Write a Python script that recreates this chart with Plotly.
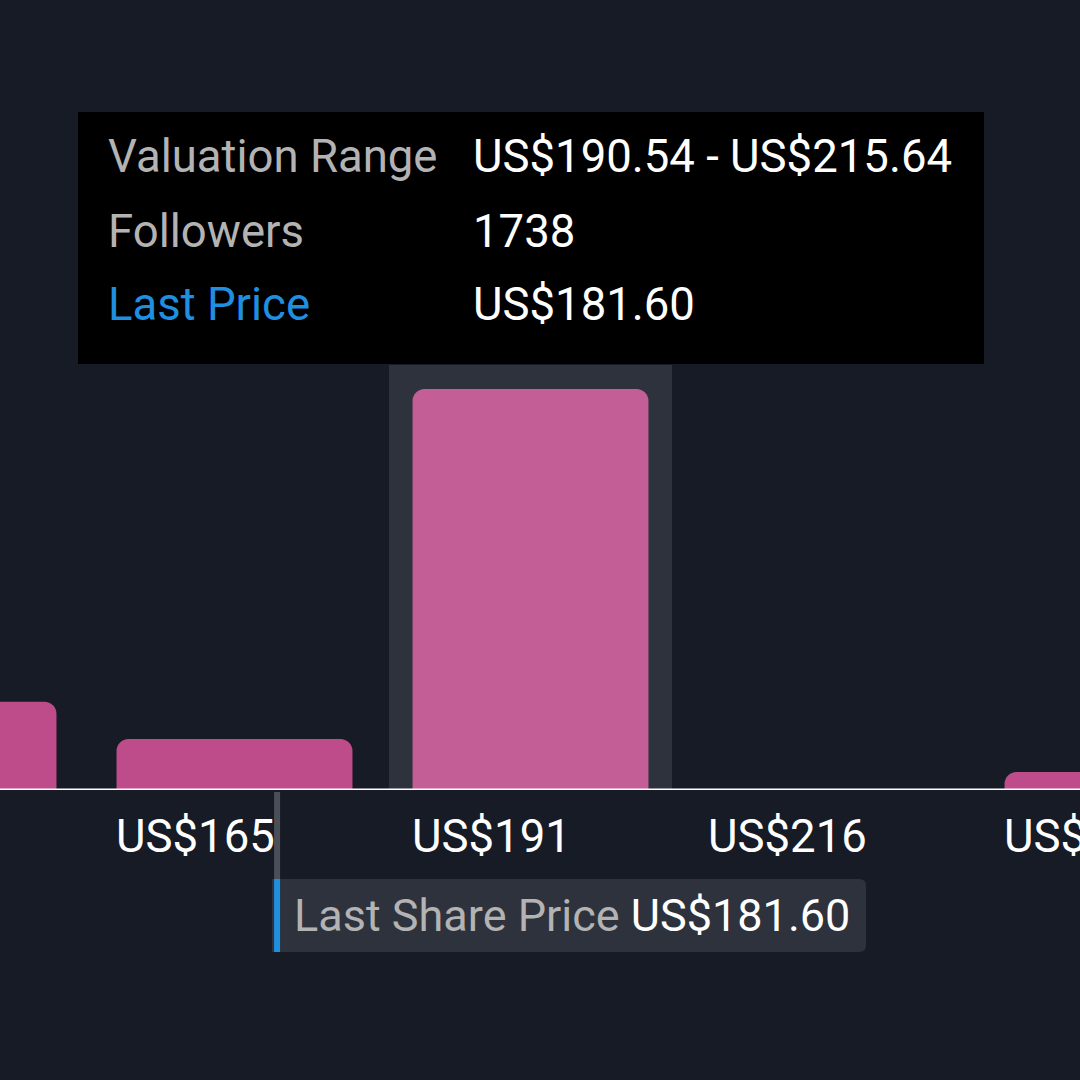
import plotly.graph_objects as go

# fair value bins (lower edges, US$) and how many narratives fall in each
bin_lower = [140.34, 165.44, 190.54, 215.64, 240.74]
bin_counts = [22.0, 12.7, 100.0, 0.0, 4.5]
tick_labels = ["US$140", "US$165", "US$191", "US$216", "US$241"]
selected_bin = 2

last_price = 181.60
tooltip_rows = [
    ("Valuation Range", "US$190.54 - US$215.64"),
    ("Followers", "1738"),
    ("Last Price", "US$181.60"),
]

BG = "#161b26"
BAR = "#bf4c8a"
BAR_SEL = "#c45e96"
HILITE = "#2e323c"
BLUE = "#1f8fe0"
GREY_TXT = "#b3b3b3"
FONT = "Roboto"
FS = 45.5

W, H = 1080, 1080
PLOT_BOTTOM = 790
BIN_W = bin_lower[1] - bin_lower[0]
PX_PER_USD = 296 / BIN_W
X_MIN = bin_lower[2] - 382.5 / PX_PER_USD
X_MAX = X_MIN + W / PX_PER_USD
Y_MAX = 197


def py(pix):
    # pixel row -> paper y
    return (PLOT_BOTTOM - pix) / PLOT_BOTTOM


def px(pix):
    return pix / W


def rounded_right(x0, x1, y0, y1, r):
    # rect in pixels, rounded on the right side only, as a paper-space path
    return (
        f"M {px(x0)} {py(y0)} L {px(x1 - r)} {py(y0)} "
        f"Q {px(x1)} {py(y0)} {px(x1)} {py(y0 + r)} "
        f"L {px(x1)} {py(y1 - r)} "
        f"Q {px(x1)} {py(y1)} {px(x1 - r)} {py(y1)} "
        f"L {px(x0)} {py(y1)} Z"
    )


centers = [b + BIN_W / 2 for b in bin_lower]
colors = [BAR_SEL if i == selected_bin else BAR for i in range(len(bin_lower))]
hl_half = BIN_W * 0.956 / 2

fig = go.Figure()
fig.add_trace(
    go.Bar(
        x=centers,
        y=bin_counts,
        width=BIN_W * 0.797,
        marker={"color": colors, "line": {"width": 0}, "cornerradius": 12},
        hoverinfo="skip",
        showlegend=False,
    )
)

shapes = [
    # highlight column behind the hovered bin
    dict(type="rect", xref="x", yref="y", layer="below",
         x0=centers[selected_bin] - hl_half, x1=centers[selected_bin] + hl_half,
         y0=0, y1=bin_counts[selected_bin] * 1.06, fillcolor=HILITE, line={"width": 0}),
    # baseline
    dict(type="line", xref="paper", yref="y", x0=0, x1=1, y0=0, y1=0,
         line={"color": "#ffffff", "width": 3}, layer="above"),
    # last price marker
    dict(type="line", xref="x", yref="paper", x0=last_price, x1=last_price,
         y0=py(792), y1=py(952), line={"color": "#4a4f58", "width": 6}),
    dict(type="path", xref="paper", yref="paper", path=rounded_right(272, 866, 879, 952, 7),
         fillcolor=HILITE, line={"width": 0}),
    dict(type="line", xref="x", yref="paper", x0=last_price, x1=last_price,
         y0=py(879), y1=py(952), line={"color": BLUE, "width": 6}),
    # tooltip box
    dict(type="rect", xref="paper", yref="paper", x0=px(78), x1=px(984),
         y0=py(112), y1=py(364), fillcolor="#000000", line={"width": 0}),
]

annotations = []
for i, (lo, lab) in enumerate(zip(bin_lower, tick_labels)):
    annotations.append(
        dict(x=centers[i] - BIN_W * 0.797 / 2, y=py(836), xref="x", yref="paper",
             text=lab, showarrow=False, xanchor="left", yanchor="middle", xshift=-3,
             font={"family": FONT, "size": FS, "color": "#ffffff"})
    )

annotations.append(
    dict(x=px(292), y=py(915), xref="paper", yref="paper",
         text=f"<span style='color:{GREY_TXT}'>Last Share Price</span> US${last_price:.2f}",
         showarrow=False, xanchor="left", yanchor="middle",
         font={"family": FONT, "size": 45, "color": "#ffffff"})
)

row_y = [157, 231, 305]
for (label, value), ry in zip(tooltip_rows, row_y):
    annotations.append(
        dict(x=px(106), y=py(ry), xref="paper", yref="paper", text=label,
             showarrow=False, xanchor="left", yanchor="middle",
             font={"family": FONT, "size": FS, "color": BLUE if label == "Last Price" else GREY_TXT})
    )
    annotations.append(
        dict(x=px(471), y=py(ry), xref="paper", yref="paper", text=value,
             showarrow=False, xanchor="left", yanchor="middle",
             font={"family": FONT, "size": FS, "color": "#ffffff"})
    )

fig.update_layout(
    width=W,
    height=H,
    margin={"l": 0, "r": 0, "t": 0, "b": H - PLOT_BOTTOM},
    paper_bgcolor=BG,
    plot_bgcolor=BG,
    showlegend=False,
    shapes=shapes,
    annotations=annotations,
    font={"family": FONT},
)
fig.update_xaxes(range=[X_MIN, X_MAX], visible=False, fixedrange=True)
fig.update_yaxes(range=[0, Y_MAX], visible=False, fixedrange=True)

fig.write_html(
    "out.html",
    config={"displayModeBar": False},
    post_script=f"document.body.style.margin='0';document.body.style.background='{BG}';",
)
